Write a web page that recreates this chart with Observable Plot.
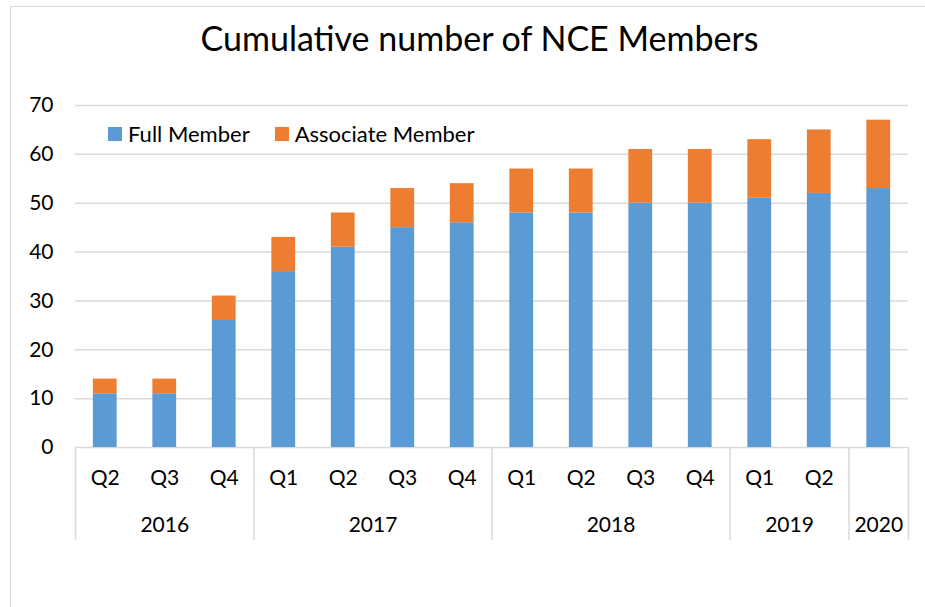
<!DOCTYPE html>
<html><head><meta charset="utf-8">
<script src="https://cdn.jsdelivr.net/npm/d3@7"></script>
<script src="https://cdn.jsdelivr.net/npm/@observablehq/plot@0.6"></script>
<style>
body{margin:0;background:#fff;font-family:Lato,"Open Sans",sans-serif;}
#wrap{position:relative;width:925px;height:607px;overflow:hidden;}
#frame{position:absolute;left:10px;top:6px;width:1000px;height:700px;border:1.5px solid #d9d9d9;box-sizing:border-box;}
#title{position:absolute;top:17px;left:0;width:959px;text-align:center;font-size:34px;color:#000;white-space:nowrap;}
#legend{position:absolute;top:120px;left:108px;display:flex;align-items:center;font-size:22px;color:#000;}
#legend .item{display:flex;align-items:center;margin-right:25px;}
#legend .sw{width:14px;height:14px;margin-right:6px;}
#chart{position:absolute;left:0;top:0;}
</style></head>
<body>
<div id="wrap">
  <div id="frame"></div>
  <div id="chart"></div>
  <div id="title">Cumulative number of NCE Members</div>
  <div id="legend"></div>
</div>
<script>
const quarters = ["Q2","Q3","Q4","Q1","Q2","Q3","Q4","Q1","Q2","Q3","Q4","Q1","Q2",""];
const years = ["2016","2016","2016","2017","2017","2017","2017","2018","2018","2018","2018","2019","2019","2020"];
const fullMember = [11,11,26,36,41,45,46,48,48,50,50,51,52,53];
const associateMember = [3,3,5,7,7,8,8,9,9,11,11,12,13,14];
const series = ["Full Member","Associate Member"];
const colors = ["#5B9BD5","#ED7D31"];
const yTicks = [0,10,20,30,40,50,60,70];

const n = quarters.length;
const rows = [];
for (let i = 0; i < n; i++) {
  rows.push({i, series: series[0], value: fullMember[i]});
  rows.push({i, series: series[1], value: associateMember[i]});
}
const qLabels = quarters.map((q, i) => ({i, q}));
const yearGroups = d3.groups(years.map((y, i) => ({y, i})), d => d.y)
  .map(([y, arr]) => ({y, c: d3.mean(arr, d => d.i)}));
const bounds = [-0.5];
for (let i = 1; i < n; i++) if (years[i] !== years[i-1]) bounds.push(i - 0.5);
bounds.push(n - 0.5);

const grid = "#d9d9d9";
const plot = Plot.plot({
  width: 925, height: 607,
  marginTop: 105, marginBottom: 160, marginLeft: 75, marginRight: 17,
  style: {fontFamily: "Lato, 'Open Sans', sans-serif", fontSize: "21px", color: "#000", background: "transparent", overflow: "visible"},
  x: {type: "linear", domain: [-0.5, n - 0.5], axis: null},
  y: {domain: [0, 70]},
  color: {domain: series, range: colors},
  marks: [
    Plot.gridY(yTicks, {stroke: grid, strokeOpacity: 1, strokeWidth: 1.5}),
    Plot.rectY(rows, {x1: d => d.i - 0.2, x2: d => d.i + 0.2, y: "value", fill: "series"}),
    Plot.ruleX(bounds, {x: d => d, y1: 0, y2: 0, insetBottom: -93, stroke: grid, strokeWidth: 1.5}),
    Plot.axisY(yTicks, {tickSize: 0, tickPadding: 22, label: null, fontSize: 21, fill: "#000"}),
    Plot.text(qLabels, {x: "i", y: 0, text: "q", dy: 31, fill: "#000", fontSize: 21}),
    Plot.text(yearGroups, {x: "c", y: 0, text: "y", dy: 78, fill: "#000", fontSize: 21})
  ]
});
document.getElementById("chart").appendChild(plot);

const leg = document.getElementById("legend");
series.forEach((s, k) => {
  const it = document.createElement("div"); it.className = "item";
  const sw = document.createElement("div"); sw.className = "sw"; sw.style.background = colors[k];
  const tx = document.createElement("span"); tx.textContent = s;
  it.appendChild(sw); it.appendChild(tx); leg.appendChild(it);
});
</script>
</body></html>
